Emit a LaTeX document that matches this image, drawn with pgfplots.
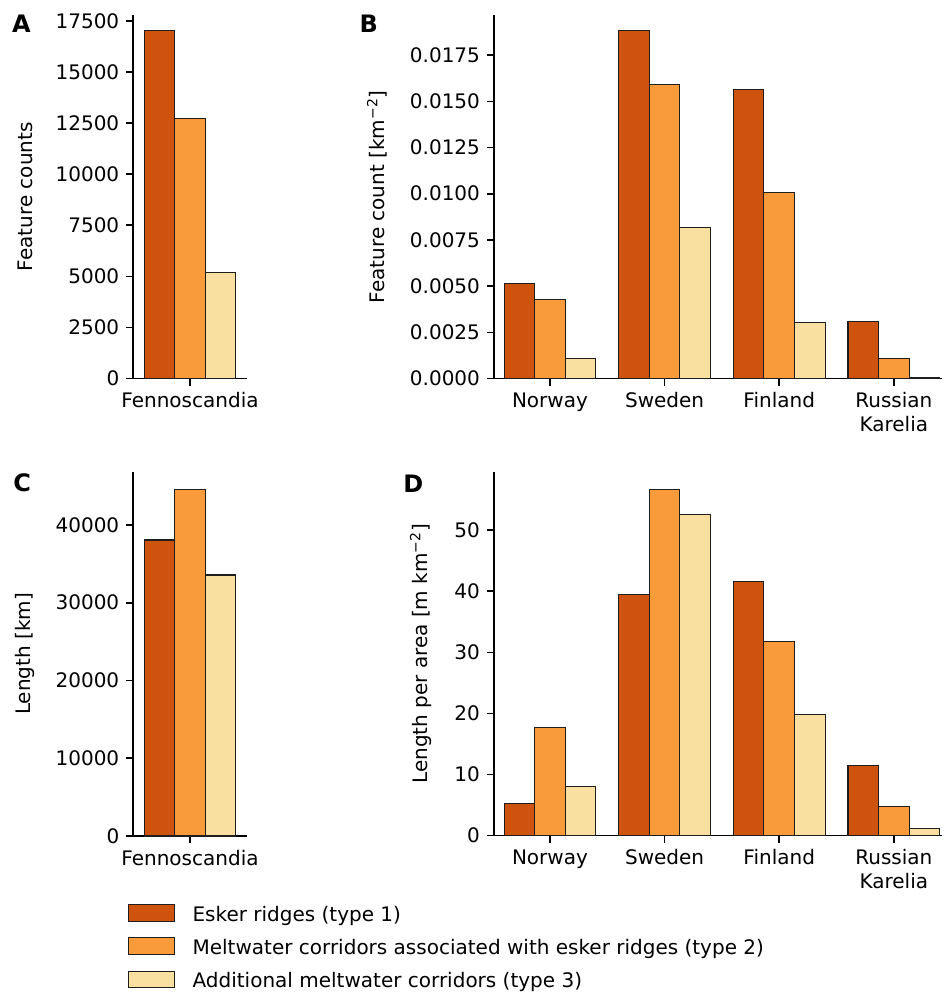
\documentclass[border=0pt]{standalone}
\usepackage{fontspec}
\setmainfont{DejaVu Sans}
\usepackage{pgfplots}
\pgfplotsset{compat=1.18}
\definecolor{c1}{RGB}{205,83,15}
\definecolor{c2}{RGB}{249,155,58}
\definecolor{c3}{RGB}{249,223,160}
\definecolor{edge}{RGB}{30,30,30}
\tikzset{letter/.style={anchor=north west, inner sep=0pt, font=\fontsize{12}{14}\selectfont\bfseries}}
\pgfplotsset{
  panel/.style={
    scale only axis,
    anchor=south west,
    axis lines*=left,
    axis line style={line width=0.8pt, black},
    tick align=outside,
    major tick length=3.5pt,
    every tick/.style={black, line width=0.8pt},
    ymin=0,
    /pgf/number format/assume math mode=true,
    /pgf/number format/1000 sep={},
    tick label style={font=\fontsize{10}{12}\selectfont},
    x tick label style={align=center},
    label style={font=\fontsize{10}{12}\selectfont},
    scaled y ticks=false,
    clip=false,
  },
  barbase/.style={ybar, bar shift=0pt, bar width=0.2667, draw=edge, line width=0.55pt,
    legend image code/.code={\draw[##1] (0pt,-3.1pt) rectangle (22.8pt,5.2pt); \path (31.6pt,0pt);}},
  s1/.style={barbase, fill=c1},
  s2/.style={barbase, fill=c2},
  s3/.style={barbase, fill=c3},
}
\begin{document}
\begin{tikzpicture}
% Panel A
\begin{axis}[panel, at={(66.65pt,-189.25pt)}, width=56.7pt, height=181.75pt,
  xmin=-0.494, xmax=0.494, ymax=17785,
  ytick={0,2500,5000,7500,10000,12500,15000,17500},
  xtick={0}, xticklabels={Fennoscandia},
  ylabel={Feature counts},
  ylabel style={at={(axis description cs:-0.956,0.5)}, anchor=center}]
\addplot[s1] coordinates {(-0.2667,17010)};
\addplot[s2] coordinates {(0,12720)};
\addplot[s3] coordinates {(0.2667,5170)};
\node[letter] at (axis description cs:-1.071,1.0) {A};
\end{axis}
% Panel B
\begin{axis}[panel, at={(247pt,-189.25pt)}, width=224pt, height=181.75pt,
  xmin=-0.488, xmax=3.42, ymax=0.01967,
  ytick={0,0.0025,0.005,0.0075,0.01,0.0125,0.015,0.0175},
  yticklabel style={/pgf/number format/fixed, /pgf/number format/fixed zerofill, /pgf/number format/precision=4},
  xtick={0,1,2,3}, xticklabels={Norway,Sweden,Finland,{Russian\\Karelia}},
  ylabel={Feature count [km\textsuperscript{−2}]},
  ylabel style={at={(axis description cs:-0.261,0.5)}, anchor=center}]
\addplot[s1] coordinates {(-0.2667,0.00514) (0.7333,0.01885) (1.7333,0.01564) (2.7333,0.00307)};
\addplot[s2] coordinates {(0,0.00429) (1,0.01589) (2,0.01007) (3,0.00110)};
\addplot[s3] coordinates {(0.2667,0.00110) (1.2667,0.00815) (2.2667,0.00301) (3.2667,0.00005)};
\node[letter] at (axis description cs:-0.301,1.0) {B};
\end{axis}
% Panel C
\begin{axis}[panel, at={(66.65pt,-418pt)}, width=56.7pt, height=182.15pt,
  xmin=-0.494, xmax=0.494, ymax=46845,
  ytick={0,10000,20000,30000,40000},
  xtick={0}, xticklabels={Fennoscandia},
  ylabel={Length [km]},
  ylabel style={at={(axis description cs:-0.956,0.5)}, anchor=center},
  legend style={draw=none, fill=none, inner sep=0pt, outer sep=0pt,
    at={(axis description cs:-0.044,-0.187)}, anchor=north west,
    row sep=6.6pt, column sep=0pt, nodes={inner sep=0pt},
    font=\fontsize{10}{12}\selectfont},
  legend cell align=left]
\addplot[s1] coordinates {(-0.2667,38060)};
\addlegendentry{Esker ridges (type 1)}
\addplot[s2] coordinates {(0,44580)};
\addlegendentry{Meltwater corridors associated with esker ridges (type 2)}
\addplot[s3] coordinates {(0.2667,33560)};
\addlegendentry{Additional meltwater corridors (type 3)}
\node[letter] at (axis description cs:-1.062,0.996) {C};
\end{axis}
% Panel D
\begin{axis}[panel, at={(247pt,-417.75pt)}, width=224pt, height=181.75pt,
  xmin=-0.488, xmax=3.42, ymax=59.53,
  ytick={0,10,20,30,40,50},
  xtick={0,1,2,3}, xticklabels={Norway,Sweden,Finland,{Russian\\Karelia}},
  ylabel={Length per area [m km\textsuperscript{−2}]},
  ylabel style={at={(axis description cs:-0.163,0.5)}, anchor=center}]
\addplot[s1] coordinates {(-0.2667,5.23) (0.7333,39.5) (1.7333,41.6) (2.7333,11.4)};
\addplot[s2] coordinates {(0,17.7) (1,56.6) (2,31.7) (3,4.7)};
\addplot[s3] coordinates {(0.2667,8.06) (1.2667,52.6) (2.2667,19.8) (3.2667,1.1)};
\node[letter] at (axis description cs:-0.203,0.992) {D};
\end{axis}
\pgfresetboundingbox
\path[use as bounding box] (0pt,0pt) rectangle (472pt,-496pt);
\end{tikzpicture}
\end{document}
